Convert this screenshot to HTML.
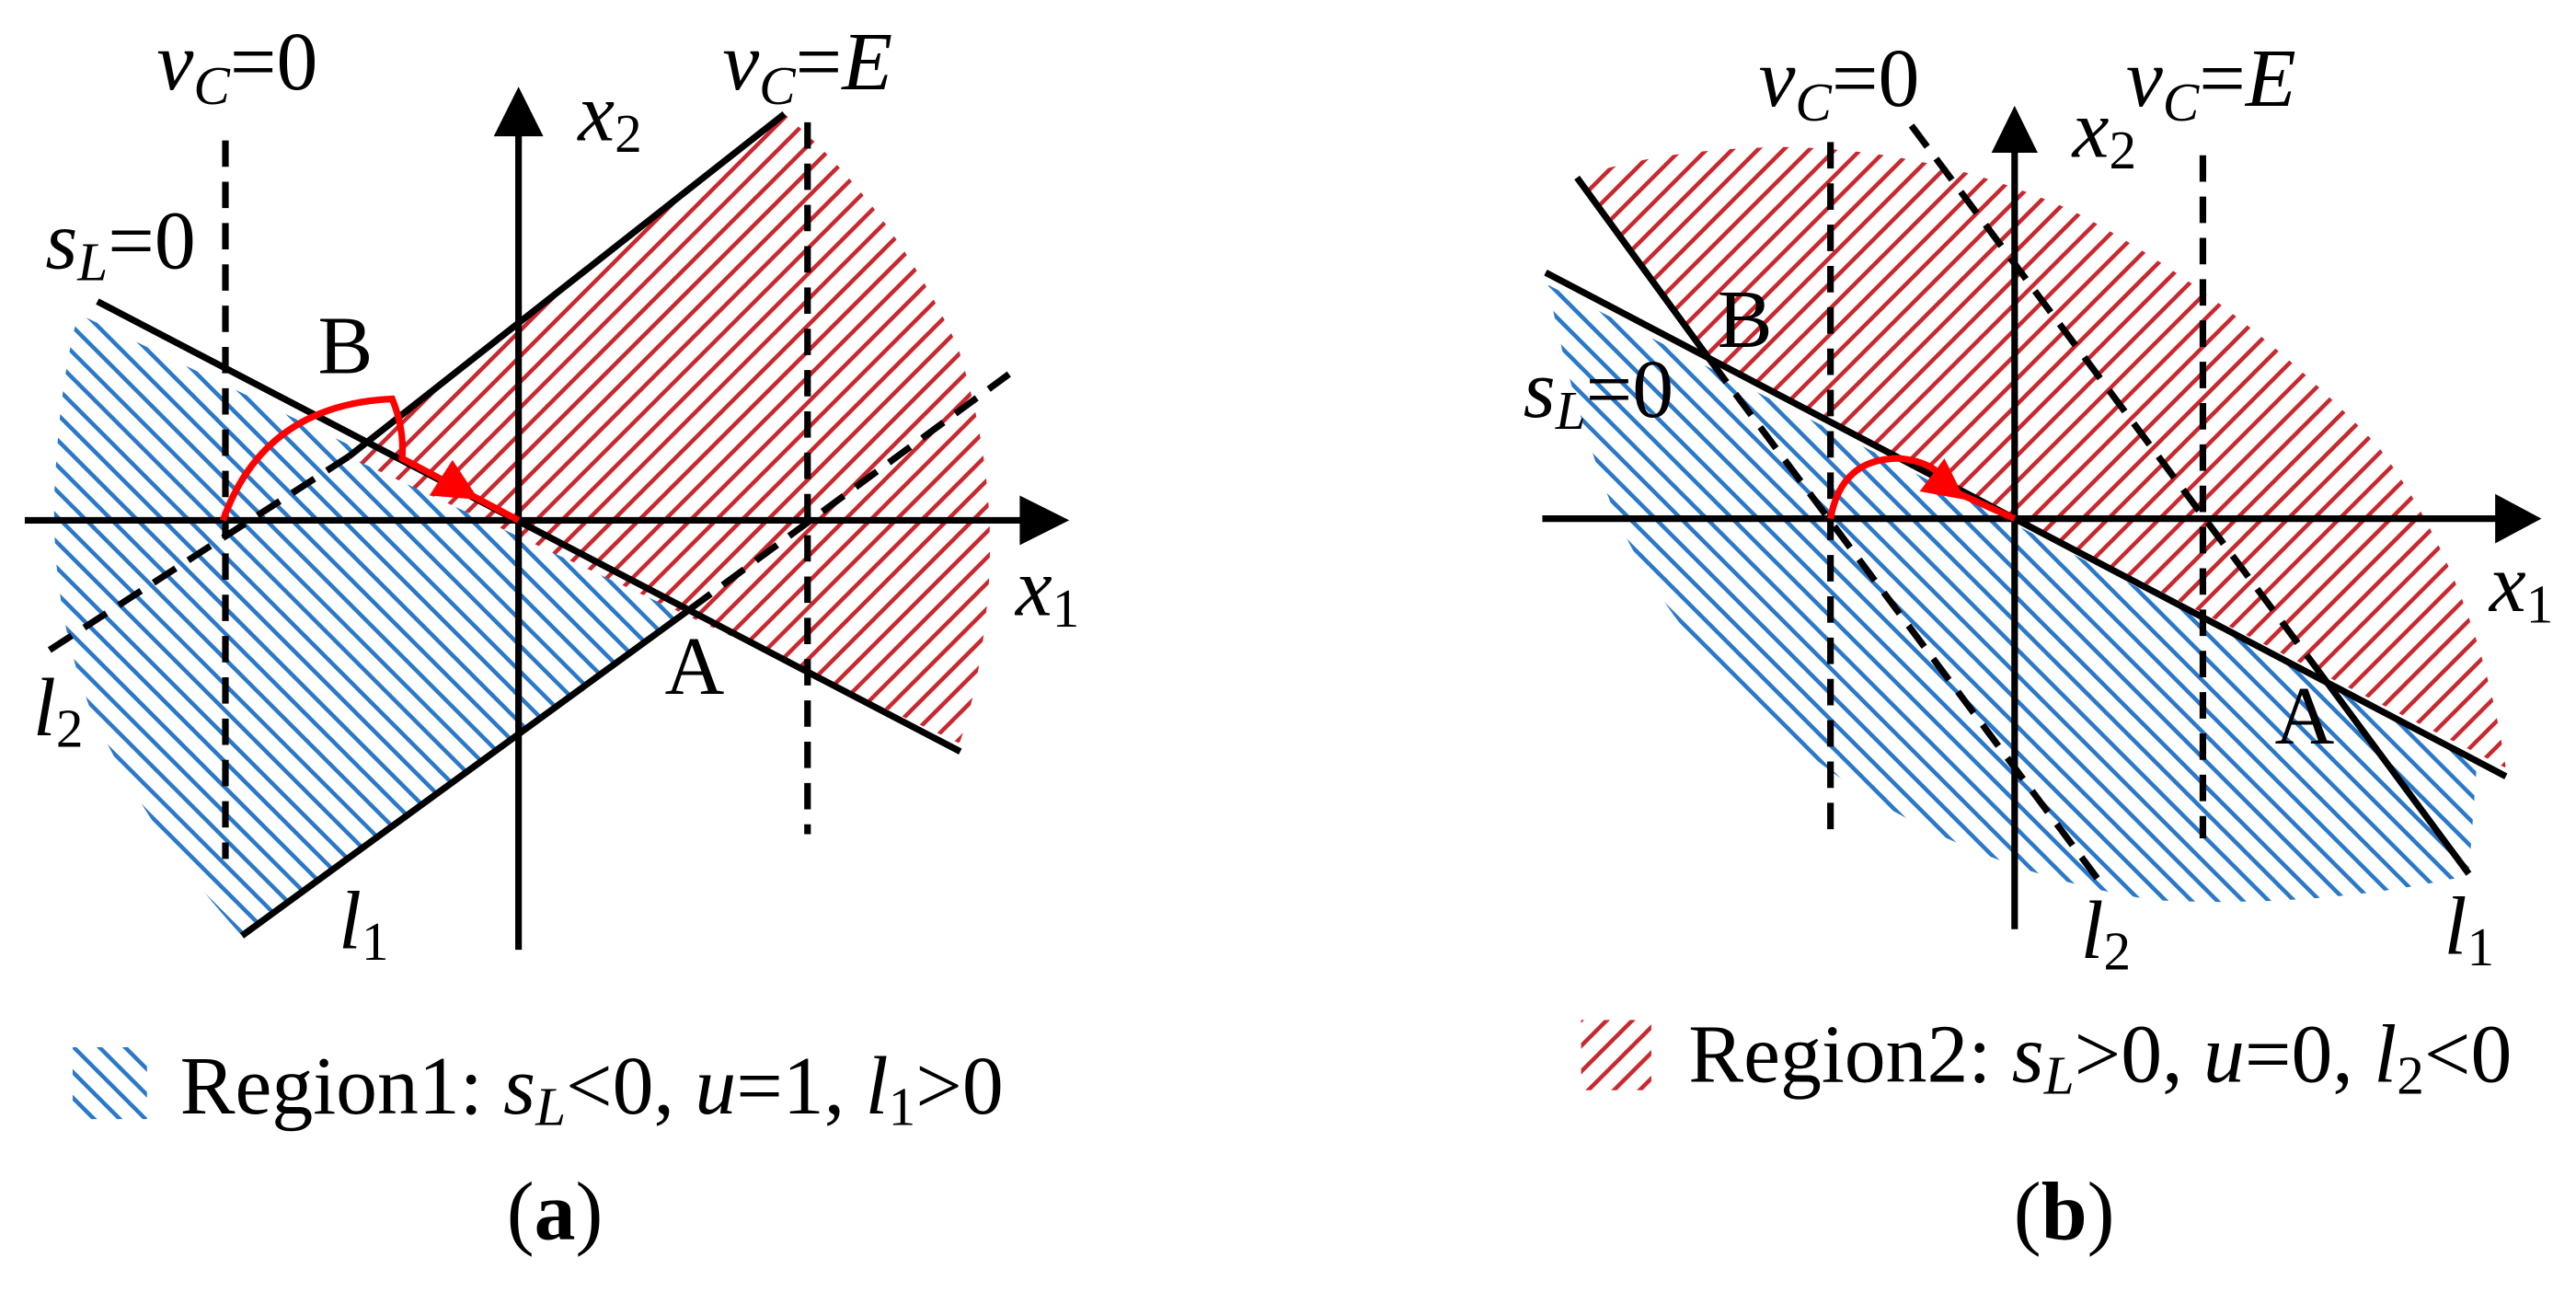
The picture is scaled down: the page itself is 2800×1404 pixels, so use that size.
<!DOCTYPE html>
<html><head><meta charset="utf-8"><style>html,body{margin:0;padding:0;background:#fff}svg{display:block}</style></head>
<body>
<svg width="2800" height="1404" viewBox="0 0 2800 1404" xmlns="http://www.w3.org/2000/svg" font-family="'Liberation Serif', serif">
<defs>
<pattern id="pb" patternUnits="userSpaceOnUse" width="22" height="22" patternTransform="rotate(-45)">
<rect width="22" height="22" fill="#fff"/><rect x="0" y="0" width="5" height="22" fill="#2a78c8"/></pattern>
<pattern id="pr" patternUnits="userSpaceOnUse" width="22" height="22" patternTransform="rotate(45)">
<rect width="22" height="22" fill="#fff"/><rect x="0" y="0" width="5" height="22" fill="#c8282e"/></pattern>
</defs>

<!-- Panel (a) -->
<g transform="scale(0.8975)">
<path d="M95,380 L835,738 L293,1133 Q180,1010 110,860 Q55,720 68,560 Q75,450 95,380 Z" fill="url(#pb)"/>
<path d="M422,553 L950,138 Q1080,250 1160,420 Q1205,560 1198,700 Q1190,820 1162,900 L422,553 Z" fill="url(#pr)"/>
<g stroke="#000" stroke-width="8" fill="none">
<line x1="30" y1="630" x2="1240" y2="630"/>
<line x1="628" y1="1150" x2="628" y2="160"/>
<line x1="118" y1="365" x2="1163" y2="910"/>
<line x1="422" y1="553" x2="950" y2="138"/>
<line x1="293" y1="1133" x2="835" y2="738"/>
<g stroke-dasharray="32,18">
<line x1="273" y1="170" x2="273" y2="1040"/>
<line x1="978" y1="148" x2="978" y2="1010"/>
<line x1="60" y1="787" x2="422" y2="553"/>
<line x1="835" y1="738" x2="1222" y2="453"/>
</g>
</g>
<polygon points="1295,630 1235,600 1235,660" fill="#000"/>
<polygon points="628,105 598,165 658,165" fill="#000"/>
<path d="M270,630 Q320,490 475,483 Q490,520 487,555 L628,630" stroke="#f00" stroke-width="8" fill="none"/>
<polygon points="580,605 520,600 548,557" fill="#f00"/>
<g font-size="100" fill="#000">
<text x="190" y="108" font-style="italic">v<tspan font-size="66" dy="18">C</tspan><tspan dy="-18" font-style="normal">=0</tspan></text>
<text x="875" y="108" font-style="italic">v<tspan font-size="66" dy="18">C</tspan><tspan dy="-18" font-style="normal">=</tspan>E</text>
<text x="700" y="170" font-style="italic">x<tspan font-size="66" dy="14" font-style="normal">2</tspan></text>
<text x="55" y="325" font-style="italic">s<tspan font-size="66" dy="14">L</tspan><tspan dy="-14" font-style="normal">=0</tspan></text>
<text x="385" y="452">B</text>
<text x="1230" y="745" font-style="italic">x<tspan font-size="66" dy="14" font-style="normal">1</tspan></text>
<text x="805" y="840">A</text>
<text x="40" y="890" font-style="italic">l<tspan font-size="66" dy="14" font-style="normal">2</tspan></text>
<text x="410" y="1148" font-style="italic">l<tspan font-size="66" dy="14" font-style="normal">1</tspan></text>
<rect x="88" y="1268" width="90" height="87" fill="url(#pb)"/>
<text x="218" y="1348">Region1: <tspan font-style="italic">s</tspan><tspan font-style="italic" font-size="66" dy="14">L</tspan><tspan dy="-14">&lt;0, </tspan><tspan font-style="italic">u</tspan>=1, <tspan font-style="italic">l</tspan><tspan font-size="66" dy="14">1</tspan><tspan dy="-14">&gt;0</tspan></text>
<text x="672" y="1500" text-anchor="middle">(<tspan font-weight="bold">a</tspan>)</text>
</g>
</g>

<!-- Panel (b) -->
<g transform="translate(1400,0) scale(0.8975)">
<path d="M315,345 L1440,922 L1430,1060 Q1250,1100 1050,1090 Q850,1060 680,950 Q480,810 395,620 Q340,480 315,345 Z" fill="url(#pb)"/>
<path d="M350,215 Q450,180 600,178 Q780,180 950,255 Q1150,360 1320,540 Q1440,700 1475,930 L512,437 Z" fill="url(#pr)"/>
<g stroke="#000" stroke-width="8" fill="none">
<line x1="308" y1="628" x2="1465" y2="628"/>
<line x1="880" y1="1125" x2="880" y2="180"/>
<line x1="312" y1="330" x2="1475" y2="940"/>
<line x1="350" y1="215" x2="512" y2="437"/>
<line x1="1250" y1="815" x2="1430" y2="1058"/>
<g stroke-dasharray="32,18">
<line x1="657" y1="172" x2="657" y2="1015"/>
<line x1="1108" y1="188" x2="1108" y2="1015"/>
<line x1="512" y1="437" x2="985" y2="1070"/>
<line x1="755" y1="152" x2="1250" y2="815"/>
</g>
</g>
<polygon points="1518,628 1462,598 1462,658" fill="#000"/>
<polygon points="880,128 852,185 908,185" fill="#000"/>
<path d="M657,628 Q670,555 740,555 Q790,560 800,592 L880,628" stroke="#f00" stroke-width="8" fill="none"/>
<polygon points="820,605 765,595 795,555" fill="#f00"/>
<g font-size="100" fill="#000">
<text x="570" y="128" font-style="italic">v<tspan font-size="66" dy="18">C</tspan><tspan dy="-18" font-style="normal">=0</tspan></text>
<text x="1015" y="128" font-style="italic">v<tspan font-size="66" dy="18">C</tspan><tspan dy="-18" font-style="normal">=</tspan>E</text>
<text x="950" y="190" font-style="italic">x<tspan font-size="66" dy="14" font-style="normal">2</tspan></text>
<text x="520" y="420">B</text>
<text x="285" y="505" font-style="italic">s<tspan font-size="66" dy="14">L</tspan><tspan dy="-14" font-style="normal">=0</tspan></text>
<text x="1455" y="740" font-style="italic">x<tspan font-size="66" dy="14" font-style="normal">1</tspan></text>
<text x="1195" y="900">A</text>
<text x="960" y="1160" font-style="italic">l<tspan font-size="66" dy="14" font-style="normal">2</tspan></text>
<text x="1400" y="1155" font-style="italic">l<tspan font-size="66" dy="14" font-style="normal">1</tspan></text>
<rect x="355" y="1235" width="85" height="85" fill="url(#pr)"/>
<text x="485" y="1310">Region2: <tspan font-style="italic">s</tspan><tspan font-style="italic" font-size="66" dy="14">L</tspan><tspan dy="-14">&gt;0, </tspan><tspan font-style="italic">u</tspan>=0, <tspan font-style="italic">l</tspan><tspan font-size="66" dy="14">2</tspan><tspan dy="-14">&lt;0</tspan></text>
<text x="940" y="1500" text-anchor="middle">(<tspan font-weight="bold">b</tspan>)</text>
</g>
</g>
</svg>
</body></html>
